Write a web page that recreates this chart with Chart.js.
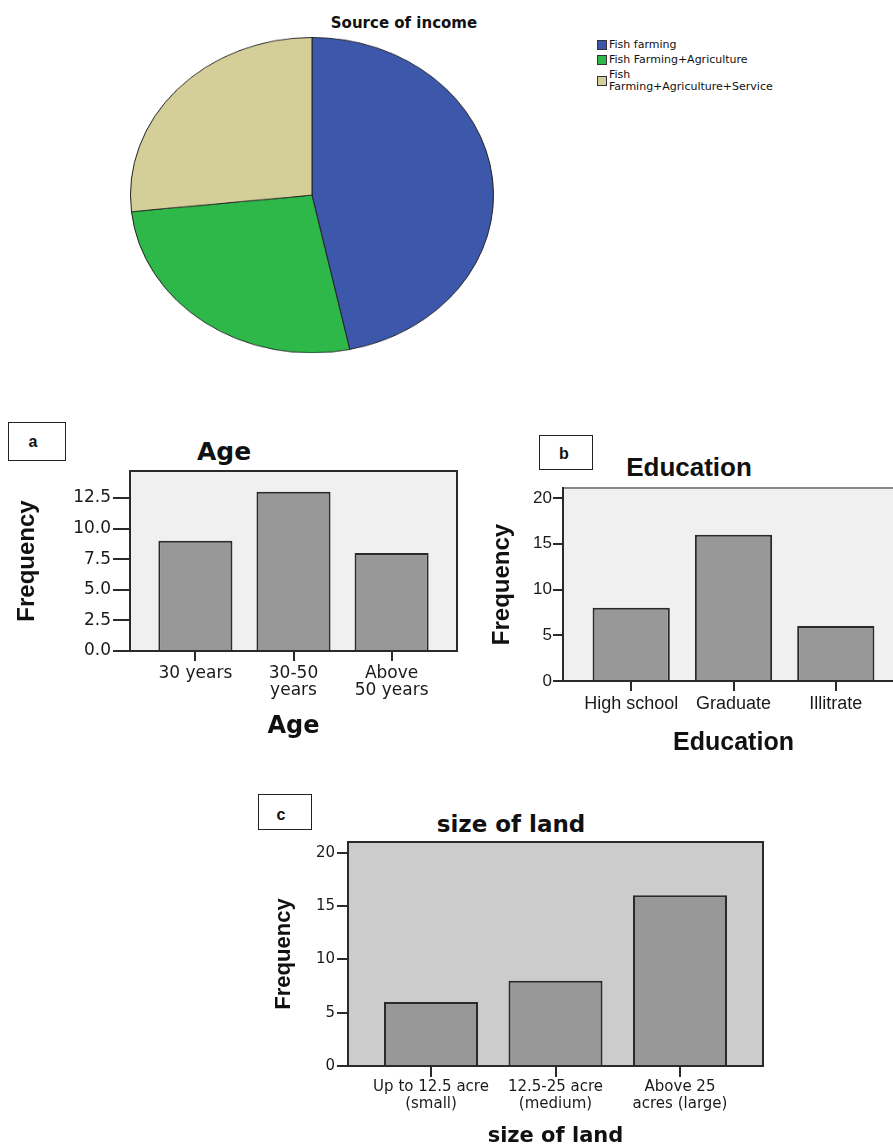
<!DOCTYPE html>
<html>
<head>
<meta charset="utf-8">
<script src="https://cdn.jsdelivr.net/npm/chart.js@4.4.1/dist/chart.umd.min.js"></script>
<style>
  html, body { margin: 0; padding: 0; background: #fff; }
  body { position: relative; width: 893px; height: 1146px; overflow: hidden; }
  canvas.abs { position: absolute; }
  .title { position: absolute; transform: translate(-50%, -50%); white-space: nowrap; line-height: 1; color: #111; font-weight: bold; }
  .tag { position: absolute; border: 1.5px solid #222; box-sizing: border-box; font: bold 16px "Liberation Sans", Arial, sans-serif; color: #111; }
  .tag span { position: absolute; transform: translate(-50%, -50%); line-height: 1; }
  #legend { position: absolute; left: 597px; top: 39px; font: 11px "DejaVu Sans", sans-serif; color: #111; }
  #legend .item { display: flex; align-items: center; margin-bottom: 3px; }
  #legend .sw { width: 10px; height: 10px; border: 1px solid #333; box-sizing: border-box; margin-right: 2px; flex: none; }
  #legend .txt { max-width: 180px; line-height: 12px; }
  #pieWrap { position: absolute; left: 130px; top: 37px; width: 364px; height: 364px; transform: scaleY(0.869); transform-origin: 0 0; }
</style>
</head>
<body>

<div class="title" style="left:404px; top:23px; font-family:'DejaVu Sans'; font-size:15px;">Source of income</div>
<div id="pieWrap"><canvas id="pie" width="364" height="364"></canvas></div>
<div id="legend"></div>

<div class="tag" style="left:8px; top:422px; width:58px; height:39px;"><span style="left:24px; top:19px;">a</span></div>
<div class="title" style="left:224px; top:451px; font-family:'DejaVu Sans'; font-size:25px;">Age</div>
<canvas id="age" class="abs"></canvas>

<div class="tag" style="left:539px; top:435px; width:54px; height:35px;"><span style="left:24px; top:18px;">b</span></div>
<div class="title" style="left:689px; top:467px; font-family:'Liberation Sans'; font-size:26px;">Education</div>
<canvas id="edu" class="abs"></canvas>

<div class="tag" style="left:258px; top:794px; width:54px; height:36px;"><span style="left:22px; top:20px;">c</span></div>
<div class="title" style="left:511px; top:824px; font-family:'DejaVu Sans'; font-size:23px;">size of land</div>
<canvas id="land" class="abs"></canvas>

<script>
// Source of income (respondent counts)
const incomeLabels = ['Fish farming', 'Fish Farming+Agriculture', 'Fish Farming+Agriculture+Service'];
const incomeCounts = [14, 8, 8];
const incomeColors = ['#3d58ab', '#2eb84a', '#d4ce99'];

// Age
const ageCategories = [['30 years'], ['30-50', 'years'], ['Above', '50 years']];
const ageCounts = [9, 13, 8];
const ageYTicks = [0, 2.5, 5, 7.5, 10, 12.5];

// Education
const eduCategories = ['High school', 'Graduate', 'Illitrate'];
const eduCounts = [8, 16, 6];
const eduYTicks = [0, 5, 10, 15, 20];

// Size of land
const landCategories = [['Up to 12.5 acre', '(small)'], ['12.5-25 acre', '(medium)'], ['Above 25', 'acres (large)']];
const landCounts = [6, 8, 16];
const landYTicks = [0, 5, 10, 15, 20];

// Plot background fill and frame around the chart area
const plotFrame = {
  id: 'plotFrame',
  beforeDraw(chart, _args, o) {
    const { ctx, chartArea: c } = chart;
    ctx.save();
    ctx.fillStyle = o.fill;
    ctx.fillRect(c.left, c.top, c.right - c.left, c.bottom - c.top);
    ctx.restore();
  },
  afterDatasetsDraw(chart, _args, o) {
    const { ctx, chartArea: c } = chart;
    ctx.save();
    ctx.lineWidth = 2;
    ctx.strokeStyle = o.stroke;
    ctx.strokeRect(c.left, c.top, c.right - c.left, c.bottom - c.top);
    if (o.topStroke) {
      ctx.strokeStyle = o.topStroke;
      ctx.beginPath();
      ctx.moveTo(c.left + 1, c.top);
      ctx.lineTo(c.right, c.top);
      ctx.stroke();
    }
    ctx.restore();
  }
};

// Pie
new Chart(document.getElementById('pie'), {
  type: 'pie',
  data: {
    labels: incomeLabels,
    datasets: [{ data: incomeCounts, backgroundColor: incomeColors, borderColor: '#222', borderWidth: 1 }]
  },
  options: {
    responsive: false, animation: false, events: [],
    layout: { padding: 0 },
    plugins: { legend: { display: false }, tooltip: { enabled: false } }
  }
});

// Pie legend
const legend = document.getElementById('legend');
incomeLabels.forEach((lab, i) => {
  const item = document.createElement('div');
  item.className = 'item';
  const sw = document.createElement('div');
  sw.className = 'sw';
  sw.style.background = incomeColors[i];
  const txt = document.createElement('div');
  txt.className = 'txt';
  txt.textContent = lab;
  item.appendChild(sw);
  item.appendChild(txt);
  legend.appendChild(item);
});

function barChart(id, s) {
  const el = document.getElementById(id);
  el.width = s.box.width;
  el.height = s.box.height;
  el.style.left = s.box.left + 'px';
  el.style.top = s.box.top + 'px';
  const yW = s.area.left - s.box.left;
  const xH = s.box.top + s.box.height - s.area.bottom;
  const padTop = s.area.top - s.box.top;
  const padRight = s.box.left + s.box.width - s.area.right;
  const yTitleLH = s.yTitleFont.size * 1.2;
  const xTitleLH = s.xTitleFont.size * 1.2;

  return new Chart(el, {
    type: 'bar',
    data: {
      datasets: [{
        data: s.counts.map((v, i) => ({ x: i, y: v })),
        backgroundColor: '#989898',
        borderColor: '#2a2a2a',
        borderWidth: 2,
        categoryPercentage: 1,
        barPercentage: 0.755
      }]
    },
    options: {
      responsive: false, animation: false, events: [],
      layout: { padding: { top: padTop, right: padRight, left: 0, bottom: 0 } },
      plugins: {
        legend: { display: false },
        tooltip: { enabled: false },
        plotFrame: { fill: s.bg, stroke: '#2a2a2a', topStroke: s.topStroke }
      },
      scales: {
        x: {
          type: 'linear', min: -2 / 3, max: 8 / 3, offset: false,
          grid: { offset: false, drawOnChartArea: false, drawTicks: true, tickLength: s.xTickLen, color: '#2a2a2a', lineWidth: 2 },
          border: { display: false },
          afterBuildTicks: sc => { sc.ticks = s.categories.map((_, i) => ({ value: i })); },
          afterFit: sc => { sc.height = xH; sc.paddingLeft = 0; sc.paddingRight = 0; },
          ticks: {
            autoSkip: false, maxRotation: 0, minRotation: 0,
            padding: s.xTickPad, color: '#1a1a1a', font: s.xTickFont,
            callback: (v, i) => s.categories[i]
          },
          title: {
            display: true, text: s.xTitle, color: '#111',
            font: Object.assign({ lineHeight: 1.2 }, s.xTitleFont),
            padding: { top: 0, bottom: s.box.top + s.box.height - s.xTitleY - xTitleLH / 2 }
          }
        },
        y: {
          min: 0, max: s.yMax,
          grid: { drawOnChartArea: false, drawTicks: true, tickLength: s.yTickLen, color: '#2a2a2a', lineWidth: 2 },
          border: { display: false },
          afterBuildTicks: sc => { sc.ticks = s.yTicks.map(v => ({ value: v })); },
          afterFit: sc => { sc.width = yW; sc.paddingTop = 0; sc.paddingBottom = 0; },
          ticks: { padding: s.yTickPad, color: '#1a1a1a', font: s.yTickFont, callback: v => s.yFormat(v) },
          title: {
            display: true, text: 'Frequency', color: '#111',
            font: Object.assign({ lineHeight: 1.2 }, s.yTitleFont),
            padding: { top: s.yTitleX - s.box.left - yTitleLH / 2, bottom: 0 }
          }
        }
      }
    },
    plugins: [plotFrame]
  });
}

barChart('age', {
  box: { left: 0, top: 465, width: 470, height: 285 },
  area: { left: 130, top: 471, right: 457, bottom: 651 },
  categories: ageCategories, counts: ageCounts, yTicks: ageYTicks, yMax: 14.7,
  yFormat: v => v.toFixed(1),
  xTickLen: 10, xTickPad: 4, xTickFont: { family: 'DejaVu Sans', size: 17, lineHeight: '17px' },
  yTickLen: 17, yTickPad: 2, yTickFont: { family: 'DejaVu Sans', size: 17 },
  xTitle: 'Age', xTitleFont: { family: 'DejaVu Sans', size: 24, weight: 'bold' }, xTitleY: 727,
  yTitleFont: { family: 'Liberation Sans', size: 24, weight: 'bold' }, yTitleX: 27.5,
  bg: '#f0f0f0'
});

barChart('edu', {
  box: { left: 480, top: 480, width: 440, height: 280 },
  area: { left: 563, top: 488, right: 904, bottom: 681 },
  categories: eduCategories, counts: eduCounts, yTicks: eduYTicks, yMax: 21.1,
  yFormat: v => String(v),
  xTickLen: 10, xTickPad: 3, xTickFont: { family: 'Liberation Sans', size: 18, lineHeight: '20px' },
  yTickLen: 10, yTickPad: 1, yTickFont: { family: 'Liberation Sans', size: 17 },
  xTitle: 'Education', xTitleFont: { family: 'Liberation Sans', size: 25, weight: 'bold' }, xTitleY: 743,
  yTitleFont: { family: 'Liberation Sans', size: 24, weight: 'bold' }, yTitleX: 502.5,
  bg: '#f0f0f0', topStroke: '#888'
});

barChart('land', {
  box: { left: 260, top: 835, width: 520, height: 330 },
  area: { left: 348, top: 842, right: 763, bottom: 1066 },
  categories: landCategories, counts: landCounts, yTicks: landYTicks, yMax: 21,
  yFormat: v => String(v),
  xTickLen: 11, xTickPad: 2, xTickFont: { family: 'DejaVu Sans', size: 15, lineHeight: '17px' },
  yTickLen: 11, yTickPad: 2, yTickFont: { family: 'DejaVu Sans', size: 15 },
  xTitle: 'size of land', xTitleFont: { family: 'DejaVu Sans', size: 21, weight: 'bold' }, xTitleY: 1137,
  yTitleFont: { family: 'Liberation Sans', size: 22, weight: 'bold' }, yTitleX: 284,
  bg: '#cccccc'
});
</script>
</body>
</html>
